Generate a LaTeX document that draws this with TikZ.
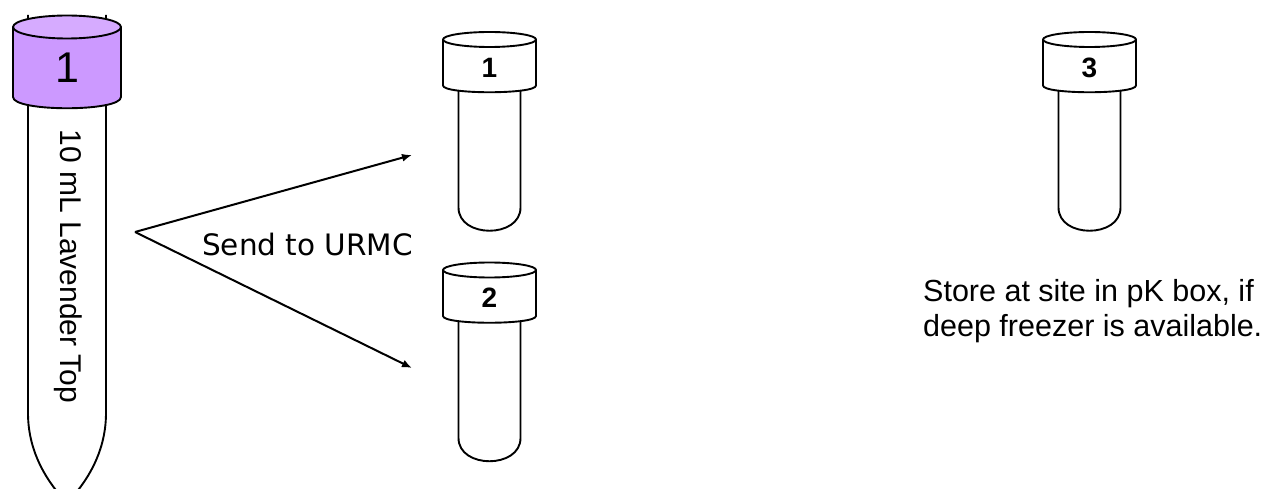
\documentclass[tikz,border=0pt]{standalone}
\usepackage{fontspec}
\setmainfont{Liberation Sans}
\newfontfamily\sendfont{DejaVu Sans}
\usepackage{tikz}
\usetikzlibrary{arrows.meta,positioning}
\usepackage{xcolor}
\definecolor{lavcap}{HTML}{CC99FF}
\definecolor{lavtop}{HTML}{D6ABFF}

\tikzset{
  smalltube/.pic={
    \draw[tubeline, fill=white] (-31,45) -- (-31,168) .. controls (-31,199) and (31,199) .. (31,168) -- (31,45);
    \draw[tubeline, fill=white] (-46.5,0) -- (-46.5,46) .. controls (-46.5,55) and (46.5,55) .. (46.5,46) -- (46.5,0);
    \draw[tubeline, fill=white] (0,0) ellipse [x radius=46.5, y radius=7.5];
    \node[capnum] (-num) at (0,28) {#1};
  }
}

\begin{document}
\begin{tikzpicture}[x=1pt, y=-1pt,
  tubeline/.style={line width=1.9pt, line join=round},
  capnum/.style={font=\fontsize{28}{30}\selectfont\bfseries, inner sep=0pt},
  sendarrow/.style={line width=2pt, -{Latex[length=10pt, width=8pt]}}]
  \useasboundingbox (0,0) rectangle (1266,489);

  % big lavender-top tube
  \draw[tubeline, fill=white] (28,15) -- (28,413) .. controls (28,455) and (50,485) .. (67,503)
    .. controls (84,485) and (106,455) .. (106,413) -- (106,15);
  \draw[tubeline, fill=lavcap] (13,27) -- (13,97) .. controls (13,112) and (121,112) .. (121,97) -- (121,27);
  \draw[tubeline, fill=lavtop] (67,27) ellipse [x radius=54, y radius=11.5];
  \node (bignum) [font=\fontsize{43}{45}\selectfont, inner sep=0pt] at (67,67.5) {1};
  \node (bigtxt) [rotate=-90, anchor=base, font=\fontsize{30}{32}\selectfont] at (60,266.5) {10 mL Lavender Top};

  % aliquot tubes
  \pic (t1) at (489.5,39.5) {smalltube=1};
  \pic (t2) at (489.5,270) {smalltube=2};
  \pic (t3) at (1089.5,39.5) {smalltube=3};

  \coordinate (fork) at (135,232);
  \coordinate (to1) at (412,155);
  \coordinate (to2) at (412,368);
  \draw[sendarrow] (fork) -- (to1);
  \draw[sendarrow] (fork) -- (to2);
  \node (send) [anchor=base west, inner sep=0pt, font=\sendfont\fontsize{29.5}{32}\selectfont] at (202,255) {Send to URMC};

  \node (store1) [anchor=base west, inner sep=0pt, font=\fontsize{30.5}{34}\selectfont] at (923,301) {Store at site in pK box, if};
  \node (store2) [anchor=base west, inner sep=0pt, font=\fontsize{30.5}{34}\selectfont] at ([yshift=-35pt]store1.base west) {deep freezer is available.};
\end{tikzpicture}
\end{document}
